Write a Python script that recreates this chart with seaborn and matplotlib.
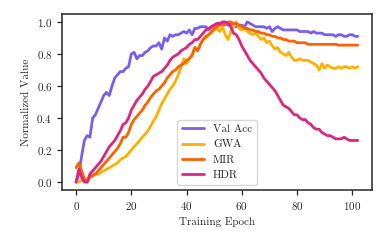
import numpy as np
import pandas as pd
import matplotlib
matplotlib.use("Agg")
import matplotlib.pyplot as plt
import seaborn as sns

# values, one per epoch (0..102)
val_acc = [0.00, 0.05, 0.16, 0.26, 0.29, 0.28, 0.40, 0.42, 0.46, 0.50,
           0.54, 0.56, 0.54, 0.60, 0.65, 0.67, 0.69, 0.69, 0.71, 0.72,
           0.80, 0.81, 0.77, 0.79, 0.79, 0.81, 0.82, 0.84, 0.85, 0.85,
           0.87, 0.83, 0.90, 0.88, 0.92, 0.91, 0.92, 0.92, 0.93, 0.94,
           0.93, 0.95, 0.92, 0.96, 0.96, 0.97, 0.97, 0.97, 0.95, 0.97,
           0.98, 0.99, 0.99, 0.97, 0.99, 0.98, 0.99, 0.98, 0.97, 0.98,
           0.98, 0.97, 1.00, 0.99, 0.98, 0.97, 0.97, 0.97, 0.97, 0.96,
           0.97, 0.94, 0.96, 0.97, 0.96, 0.95, 0.95, 0.95, 0.95, 0.95,
           0.95, 0.94, 0.94, 0.94, 0.94, 0.93, 0.94, 0.93, 0.93, 0.93,
           0.92, 0.92, 0.92, 0.92, 0.91, 0.92, 0.92, 0.91, 0.91, 0.92,
           0.92, 0.91, 0.91]
gwa = [0.00, 0.00, 0.01, 0.01, 0.02, 0.03, 0.04, 0.05, 0.05, 0.06,
       0.07, 0.08, 0.09, 0.10, 0.11, 0.12, 0.14, 0.15, 0.16, 0.18,
       0.20, 0.22, 0.24, 0.26, 0.28, 0.30, 0.32, 0.35, 0.38, 0.41,
       0.45, 0.49, 0.52, 0.55, 0.58, 0.60, 0.63, 0.67, 0.72, 0.77,
       0.74, 0.77, 0.80, 0.84, 0.82, 0.86, 0.89, 0.90, 0.92, 0.93,
       0.95, 0.96, 0.94, 0.97, 0.92, 0.89, 0.94, 0.97, 1.00, 0.96,
       0.95, 0.96, 0.94, 0.93, 0.92, 0.93, 0.91, 0.89, 0.90, 0.87,
       0.88, 0.85, 0.83, 0.84, 0.81, 0.80, 0.79, 0.81, 0.78, 0.76,
       0.76, 0.77, 0.76, 0.76, 0.76, 0.75, 0.74, 0.73, 0.70, 0.74,
       0.71, 0.73, 0.72, 0.71, 0.71, 0.72, 0.71, 0.72, 0.72, 0.71,
       0.72, 0.71, 0.72]
mir = [0.09, 0.12, 0.07, 0.02, 0.00, 0.03, 0.04, 0.05, 0.07, 0.09,
       0.11, 0.13, 0.15, 0.17, 0.19, 0.21, 0.24, 0.28, 0.28, 0.31,
       0.36, 0.39, 0.41, 0.43, 0.45, 0.48, 0.50, 0.53, 0.55, 0.57,
       0.58, 0.60, 0.62, 0.65, 0.67, 0.69, 0.70, 0.72, 0.73, 0.74,
       0.76, 0.77, 0.79, 0.84, 0.82, 0.86, 0.89, 0.91, 0.92, 0.94,
       0.96, 0.97, 0.98, 0.99, 0.99, 1.00, 1.00, 0.99, 0.99, 0.98,
       0.97, 0.96, 0.96, 0.95, 0.95, 0.94, 0.94, 0.93, 0.93, 0.92,
       0.92, 0.91, 0.91, 0.90, 0.90, 0.89, 0.89, 0.88, 0.88, 0.88,
       0.87, 0.87, 0.87, 0.87, 0.86, 0.86, 0.86, 0.86, 0.86, 0.86,
       0.86, 0.86, 0.86, 0.86, 0.86, 0.855, 0.855, 0.855, 0.855, 0.855,
       0.855, 0.855, 0.855]
hdr = [0.00, 0.08, 0.03, 0.00, 0.00, 0.05, 0.07, 0.09, 0.11, 0.13,
       0.16, 0.19, 0.22, 0.24, 0.26, 0.29, 0.32, 0.36, 0.37, 0.40,
       0.45, 0.48, 0.51, 0.53, 0.55, 0.58, 0.60, 0.63, 0.66, 0.67,
       0.68, 0.69, 0.71, 0.73, 0.76, 0.78, 0.79, 0.80, 0.82, 0.83,
       0.84, 0.86, 0.87, 0.89, 0.89, 0.91, 0.93, 0.95, 0.96, 0.97,
       0.98, 0.99, 0.99, 1.00, 1.00, 0.99, 0.97, 0.93, 0.92, 0.89,
       0.85, 0.82, 0.79, 0.76, 0.74, 0.72, 0.70, 0.68, 0.65, 0.63,
       0.61, 0.59, 0.57, 0.54, 0.51, 0.48, 0.47, 0.46, 0.44, 0.42,
       0.42, 0.40, 0.39, 0.39, 0.37, 0.36, 0.34, 0.33, 0.33, 0.31,
       0.30, 0.29, 0.29, 0.28, 0.27, 0.27, 0.27, 0.28, 0.27, 0.26,
       0.26, 0.26, 0.26]

series_names = ["Val Acc", "GWA", "MIR", "HDR"]
colors = {"Val Acc": "#785EF0", "GWA": "#FFB000", "MIR": "#FE6100", "HDR": "#DC267F"}

epochs = np.arange(len(val_acc))
df = pd.concat([
    pd.DataFrame({"epoch": epochs, "value": v, "metric": name})
    for name, v in zip(series_names, [val_acc, gwa, mir, hdr])
])

sns.set_theme(style="ticks")
plt.rcParams["font.family"] = ["cmr10", "DejaVu Serif"]
plt.rcParams["axes.formatter.use_mathtext"] = True
plt.rcParams["axes.linewidth"] = 1.1

fig, ax = plt.subplots(figsize=(3.85, 2.44), dpi=100)
fig.subplots_adjust(left=0.161, right=0.966, top=0.943, bottom=0.221)

sns.lineplot(data=df, x="epoch", y="value", hue="metric", hue_order=series_names,
             palette=colors, linewidth=2.0, ax=ax)

ax.set_xlabel("Training Epoch", fontsize=8)
ax.set_ylabel("Normalized Value", fontsize=8)
ax.set_xticks([0, 20, 40, 60, 80, 100])
ax.set_yticks([0.0, 0.2, 0.4, 0.6, 0.8, 1.0])
ax.tick_params(labelsize=8, length=3.5, width=0.9)
ax.legend(title=None, loc="lower center", fontsize=8, handlelength=2.0, framealpha=0.8)

fig.savefig("out.png", dpi=100)
